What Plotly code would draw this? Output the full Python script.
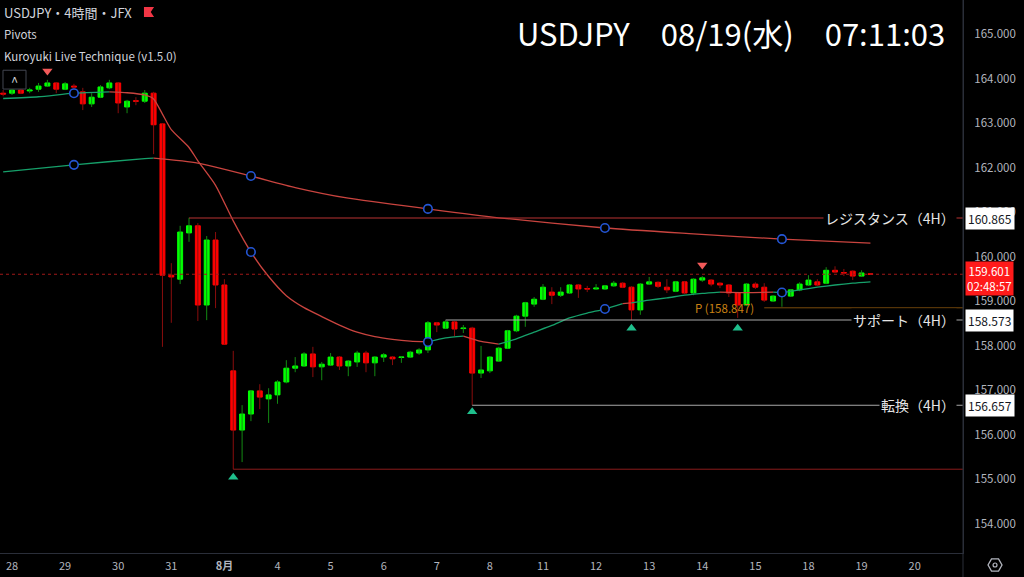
import plotly.graph_objects as go

# 4H candles, bar index -1..97 (day starts every 6 bars)
bars = list(range(-1, 98))
opens = [163.67, 163.67, 163.74, 163.72, 163.76, 163.83, 163.90, 163.76, 163.83, 163.70,
         163.43, 163.58, 163.79, 163.90, 163.36, 163.50, 163.49, 163.67, 162.98, 159.58,
         159.49, 160.53, 160.69, 158.91, 160.37, 159.36, 157.43, 156.10, 156.46, 156.98,
         156.80, 156.89, 157.18, 157.49, 157.54, 157.81, 157.52, 157.56, 157.74, 157.54,
         157.63, 157.83, 157.61, 157.74, 157.74, 157.73, 157.74, 157.83, 157.90, 158.51,
         158.39, 158.53, 158.38, 158.39, 157.38, 157.43, 157.65, 157.94, 158.33, 158.66,
         158.93, 159.04, 159.20, 159.13, 159.18, 159.36, 159.28, 159.27, 159.27, 159.34,
         159.40, 159.31, 158.80, 159.38, 159.42, 159.31, 159.22, 159.43, 159.18, 159.47,
         159.47, 159.40, 159.36, 159.18, 158.91, 159.38, 159.31, 159.00, 159.11, 159.11,
         159.25, 159.36, 159.43, 159.40, 159.69, 159.64, 159.67, 159.56, 159.61]
highs = [163.74, 163.76, 163.76, 163.79, 163.90, 163.97, 163.92, 163.92, 163.88, 163.79,
         163.67, 163.85, 163.97, 163.92, 163.52, 163.58, 163.74, 163.70, 162.98, 159.85,
         160.69, 160.87, 160.75, 160.46, 160.55, 159.49, 157.88, 156.66, 157.00, 157.13,
         157.04, 157.22, 157.67, 157.74, 157.85, 157.97, 157.63, 157.83, 157.76, 157.67,
         157.88, 157.88, 157.76, 157.83, 157.76, 157.76, 157.88, 157.94, 158.55, 158.53,
         158.57, 158.55, 158.46, 158.42, 157.99, 157.76, 157.97, 158.35, 158.69, 158.98,
         159.09, 159.38, 159.31, 159.31, 159.38, 159.38, 159.34, 159.38, 159.36, 159.45,
         159.42, 159.33, 159.40, 159.54, 159.44, 159.49, 159.45, 159.45, 159.51, 159.56,
         159.49, 159.42, 159.38, 159.20, 159.40, 159.42, 159.40, 159.13, 159.22, 159.27,
         159.42, 159.58, 159.49, 159.76, 159.78, 159.72, 159.69, 159.69, 159.61]
lows = [163.60, 163.63, 163.65, 163.67, 163.70, 163.81, 163.67, 163.74, 163.76, 163.29,
        163.36, 163.56, 163.76, 163.22, 163.22, 163.40, 163.45, 162.30, 157.97, 158.51,
        159.38, 160.33, 158.55, 158.57, 158.84, 158.03, 155.22, 155.38, 156.30, 156.57,
        156.26, 156.69, 157.15, 157.40, 157.52, 157.29, 157.22, 157.54, 157.45, 157.31,
        157.52, 157.40, 157.31, 157.63, 157.56, 157.61, 157.72, 157.79, 157.83, 158.30,
        158.37, 158.21, 158.28, 156.66, 157.27, 157.38, 157.63, 157.92, 158.30, 158.42,
        158.87, 159.02, 158.93, 159.09, 159.16, 159.07, 159.20, 159.25, 159.25, 159.32,
        159.29, 158.57, 158.69, 159.36, 159.29, 159.18, 159.20, 159.16, 159.13, 159.43,
        159.33, 159.29, 159.09, 158.62, 158.89, 159.27, 158.98, 158.98, 158.87, 159.09,
        159.22, 159.34, 159.34, 159.38, 159.63, 159.56, 159.47, 159.54, 159.60]
closes = [163.65, 163.74, 163.67, 163.74, 163.83, 163.90, 163.76, 163.88, 163.81, 163.43,
          163.58, 163.81, 163.90, 163.45, 163.49, 163.49, 163.67, 162.96, 159.58, 159.54,
          160.55, 160.69, 158.91, 160.37, 159.36, 158.03, 156.10, 156.46, 156.98, 156.84,
          156.89, 157.18, 157.49, 157.54, 157.81, 157.52, 157.58, 157.74, 157.54, 157.65,
          157.83, 157.61, 157.74, 157.79, 157.70, 157.74, 157.85, 157.90, 158.51, 158.46,
          158.53, 158.37, 158.39, 157.38, 157.45, 157.74, 157.94, 158.33, 158.66, 158.96,
          159.04, 159.31, 159.13, 159.20, 159.36, 159.27, 159.27, 159.29, 159.34, 159.40,
          159.31, 158.80, 159.38, 159.43, 159.33, 159.25, 159.43, 159.18, 159.49, 159.52,
          159.38, 159.36, 159.18, 158.91, 159.38, 159.31, 159.02, 159.11, 159.18, 159.25,
          159.38, 159.47, 159.36, 159.69, 159.65, 159.63, 159.56, 159.63, 159.60]

# moving averages (u = rising/green, d = falling/red)
short_bars = [-1, 3, 7, 11, 13, 15, 16, 17, 18, 20, 21, 23, 25, 27, 29, 31, 33, 35, 37, 39,
              41, 43, 45, 47, 49, 51, 53, 55, 57, 59, 61, 63, 65, 67, 69, 70, 72, 74, 76, 78,
              80, 83, 86, 87, 89, 91, 93, 95, 97]
short_ma = [163.55, 163.59, 163.67, 163.70, 163.68, 163.63, 163.54, 163.20, 162.85, 162.45,
            162.15, 161.60, 160.80, 160.10, 159.55, 159.12, 158.85, 158.65, 158.46, 158.30,
            158.20, 158.14, 158.10, 158.08, 158.17, 158.21, 158.09, 158.03, 158.15, 158.30,
            158.45, 158.62, 158.73, 158.82, 158.94, 158.96, 159.02, 159.07, 159.13, 159.17,
            159.20, 159.19, 159.20, 159.19, 159.25, 159.31, 159.36, 159.40, 159.43]
short_trend = ['u', 'u', 'u', 'd', 'd', 'd', 'd', 'd', 'd', 'd',
               'd', 'd', 'd', 'd', 'd', 'd', 'd', 'd', 'd', 'd',
               'd', 'd', 'd', 'u', 'u', 'd', 'd', 'u', 'u', 'u',
               'u', 'u', 'u', 'u', 'd', 'u', 'u', 'u', 'u', 'u',
               'd', 'd', 'u', 'u', 'u', 'u', 'u', 'u', 'u']
long_bars = [-1, 7, 15, 16, 21, 27, 32, 38, 47, 55, 67, 77, 87, 97]
long_ma = [161.90, 162.06, 162.20, 162.21, 162.10, 161.81, 161.55, 161.31, 161.07, 160.87,
           160.64, 160.51, 160.39, 160.30]
long_trend = ['u', 'u', 'u', 'd', 'd', 'd', 'd', 'd', 'd', 'd', 'd', 'd', 'd', 'd']

# blue pivot circles on the MAs
circle_bars = [7, 27, 47, 67, 87]
circle_short = [163.67, 160.10, 158.08, 158.82, 159.19]
circle_long = [162.06, 161.81, 161.07, 160.64, 160.39]

# swing markers
top_bars = [4, 78]
top_marks = [164.17, 159.81]
bottom_bars = [25, 52, 70, 82]
bottom_marks = [155.04, 156.51, 158.39, 158.39]

# horizontal levels
resistance, support, tenkan, low_line, pivot_p = 160.865, 158.573, 156.657, 155.22, 158.847
last_price = 159.601

day_ticks = [0, 6, 12, 18, 24, 30, 36, 42, 48, 54, 60, 66, 72, 78, 84, 90, 96, 102]
day_labels = ['28', '29', '30', '31', '<b>8月</b>', '4', '5', '6', '7', '8', '11', '12', '13',
              '14', '15', '18', '19', '20']
price_ticks = [154, 155, 156, 157, 158, 159, 160, 161, 162, 163, 164, 165]

FONT = 'Noto Sans CJK JP, Noto Sans, sans-serif'
UP, DN = '#00ff00', '#ff0000'
UP_WICK, DN_WICK = '#138a13', '#8a0d0d'
MA_UP, MA_DN = '#16a06a', '#c9443f'
X0, X1 = -1.356, 107.46

fig = go.Figure()

# wicks
for up in (True, False):
    wx, wy = [], []
    for b, o, h, l, c in zip(bars, opens, highs, lows, closes):
        if (c >= o) == up:
            wx += [b, b, None]
            wy += [l, h, None]
    fig.add_trace(go.Scatter(x=wx, y=wy, mode='lines', hoverinfo='skip',
                             line=dict(color=UP_WICK if up else DN_WICK, width=1)))

# bodies
fig.add_trace(go.Candlestick(
    x=bars, open=opens, close=closes,
    high=[max(o, c) for o, c in zip(opens, closes)],
    low=[min(o, c) for o, c in zip(opens, closes)],
    increasing=dict(line=dict(color=UP, width=1), fillcolor=UP),
    decreasing=dict(line=dict(color=DN, width=1), fillcolor=DN),
    whiskerwidth=0, hoverinfo='skip'))


def add_ma(xs, ys, trend):
    start = 0
    for k in range(1, len(xs)):
        if k == len(xs) - 1 or trend[k] != trend[start]:
            fig.add_trace(go.Scatter(
                x=xs[start:k + 1], y=ys[start:k + 1], mode='lines', hoverinfo='skip',
                line=dict(color=MA_UP if trend[start] == 'u' else MA_DN, width=1.3,
                          shape='spline', smoothing=0.6)))
            start = k


add_ma(short_bars, short_ma, short_trend)
add_ma(long_bars, long_ma, long_trend)

for vals in (circle_short, circle_long):
    fig.add_trace(go.Scatter(x=circle_bars, y=vals, mode='markers', hoverinfo='skip',
                             marker=dict(symbol='circle', size=8.5, color='#000000',
                                         line=dict(color='#2456d6', width=1.6))))

fig.add_trace(go.Scatter(x=top_bars, y=top_marks, mode='markers', hoverinfo='skip',
                         marker=dict(symbol='triangle-down', size=9, color='#f25a5a')))
fig.add_trace(go.Scatter(x=bottom_bars, y=bottom_marks, mode='markers', hoverinfo='skip',
                         marker=dict(symbol='triangle-up', size=9, color='#1fbf8c')))

shapes = [
    dict(type='line', xref='x', yref='y', x0=20, x1=X1, y0=resistance, y1=resistance,
         line=dict(color='#b83232', width=1)),
    dict(type='line', xref='x', yref='y', x0=49, x1=X1, y0=support, y1=support,
         line=dict(color='#a8a8a8', width=1)),
    dict(type='line', xref='x', yref='y', x0=52, x1=X1, y0=tenkan, y1=tenkan,
         line=dict(color='#a8a8a8', width=1)),
    dict(type='line', xref='x', yref='y', x0=25, x1=X1, y0=low_line, y1=low_line,
         line=dict(color='#8c1c1c', width=1)),
    dict(type='line', xref='x', yref='y', x0=85, x1=X1, y0=pivot_p, y1=pivot_p,
         line=dict(color='#7a4b0c', width=1)),
    dict(type='line', xref='x', yref='y', x0=X0, x1=X1, y0=last_price, y1=last_price,
         line=dict(color='#a01818', width=1, dash='dot')),
    # right separator
    dict(type='line', xref='paper', yref='paper', x0=1, x1=1, y0=1, y1=-0.05,
         line=dict(color='#2a2e39', width=1)),
    # red flag next to the symbol title
    dict(type='path', xref='paper', yref='paper', line=dict(width=0), fillcolor='#f23645',
         path='M 0.1495 0.9873 L 0.1600 0.9873 L 0.1565 0.9783 L 0.1600 0.9693 L 0.1495 0.9693 Z'),
    # collapse button
    dict(type='rect', xref='paper', yref='paper', x0=0.0031, x1=0.0270, y0=0.8390, y1=0.8730,
         line=dict(color='#434651', width=1)),
    # settings icon
    dict(type='path', xref='paper', yref='paper', line=dict(color='#b2b5be', width=1.3),
         path='M 1.0260 -0.0217 L 1.0296 -0.0327 L 1.0369 -0.0327 L 1.0405 -0.0217 '
              'L 1.0369 -0.0108 L 1.0296 -0.0108 Z'),
    dict(type='circle', xref='paper', yref='paper', x0=1.0312, x1=1.0353, y0=-0.0253,
         y1=-0.0181, line=dict(color='#b2b5be', width=1.2)),
]


def note(text, x, y, size, color, xanchor='left', yref='paper', **kw):
    return dict(text=text, xref='paper', yref=yref, x=x, y=y, xanchor=xanchor,
                yanchor='middle', showarrow=False, font=dict(size=size, color=color), **kw)


ann = [
    note('USDJPY　08/19(水)　07:11:03', 0.759, 0.942, 31, '#ffffff', xanchor='center'),
    note('USDJPY・4時間・JFX', 0.002, 0.978, 13, '#d1d4dc'),
    note('Pivots', 0.002, 0.938, 11.5, '#d1d4dc'),
    note('Kuroyuki Live Technique (v1.5.0)', 0.002, 0.899, 11.5, '#d1d4dc'),
    note('^', 0.0150, 0.853, 13, '#d1d4dc', xanchor='center'),
    note('レジスタンス（4H）', 0.994, resistance, 14, '#e6e6e6', xanchor='right', yref='y',
         bgcolor='#000000'),
    note('サポート（4H）', 0.994, support, 14, '#e6e6e6', xanchor='right', yref='y',
         bgcolor='#000000'),
    note('転換（4H）', 0.994, tenkan, 14, '#e6e6e6', xanchor='right', yref='y',
         bgcolor='#000000'),
    note('P (%.3f)' % pivot_p, 0.720, pivot_p, 11.5, '#c98013', yref='y'),
]
for lvl in (resistance, support, tenkan):
    ann.append(note('%.3f' % lvl, 1, lvl, 12, '#131722', yref='y', xshift=2,
                    bgcolor='#ffffff', borderpad=2))
ann.append(note('%.3f<br>02:48:57' % last_price, 1, last_price, 11.5, '#ffffff', yref='y',
                xshift=2, yshift=-4, bgcolor='#ff1a1a', borderpad=1))

fig.update_layout(
    width=1024, height=577,
    margin=dict(l=0, r=61, t=0, b=24),
    paper_bgcolor='#000000', plot_bgcolor='#000000',
    font=dict(family=FONT, color='#b2b5be', size=11),
    showlegend=False, hovermode=False, boxgap=0.2,
    shapes=shapes, annotations=ann,
    xaxis=dict(range=[X0, X1], tickvals=day_ticks, ticktext=day_labels,
               showgrid=False, zeroline=False, rangeslider=dict(visible=False),
               showline=True, linecolor='#2a2e39', ticks='', ticklabelstandoff=3,
               tickfont=dict(size=11, color='#b2b5be')),
    yaxis=dict(range=[153.337, 165.764], side='right', tickvals=price_ticks,
               ticktext=['%.3f' % p for p in price_ticks], showgrid=False,
               zeroline=False, showline=True, linecolor='#2a2e39', ticks='',
               ticklabelstandoff=8, tickfont=dict(size=11.5, color='#b2b5be')),
)

fig.write_html('out.html', config={'displayModeBar': False},
               post_script="document.body.style.margin='0';document.body.style.background='#000';")
